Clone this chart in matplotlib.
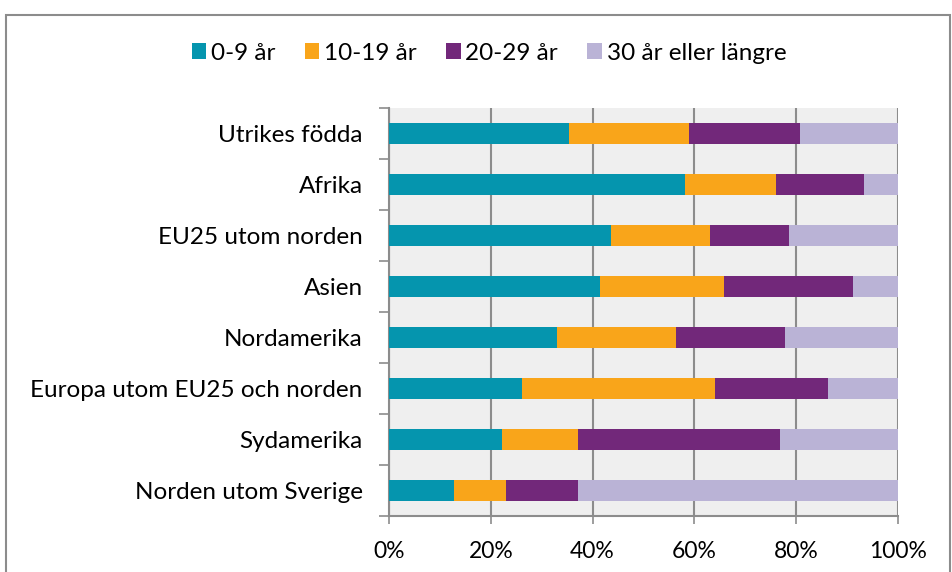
import numpy as np
import matplotlib.pyplot as plt
from matplotlib.patches import Rectangle

plt.rcParams['font.family'] = ['Lato', 'DejaVu Sans']

# categories from top to bottom
regions = ["Utrikes födda", "Afrika", "EU25 utom norden", "Asien", "Nordamerika",
           "Europa utom EU25 och norden", "Sydamerika", "Norden utom Sverige"]
# percent shares per duration group
share_0_9 = [35.4, 58.2, 43.6, 41.5, 33.0, 26.1, 22.2, 12.8]
share_10_19 = [23.5, 17.8, 19.5, 24.3, 23.4, 37.9, 14.9, 10.2]
share_20_29 = [21.8, 17.3, 15.5, 25.4, 21.4, 22.2, 39.7, 14.1]
share_30 = [19.3, 6.7, 21.4, 8.8, 22.2, 13.8, 23.2, 62.9]

series = [share_0_9, share_10_19, share_20_29, share_30]
labels = ["0-9 år", "10-19 år", "20-29 år", "30 år eller längre"]
colors = ["#0595ae", "#f9a51a", "#72287a", "#bab3d6"]

fig = plt.figure(figsize=(9.52, 5.72), dpi=100)
ax = fig.add_axes([389/952, 1-516/572, (898-389)/952, (516-108)/572])
ax.set_facecolor("#efefef")

y = np.arange(len(regions))[::-1]
left = np.zeros(len(regions))
for vals, lab, col in zip(series, labels, colors):
    vals = np.array(vals)
    ax.barh(y, vals, left=left, height=0.41, color=col, label=lab, zorder=3)
    left += vals

ax.set_xlim(0, 100)
ax.set_ylim(-0.5, len(regions) - 0.5)
ax.set_xticks(np.arange(0, 101, 20))
ax.set_xticklabels([f"{v}%" for v in range(0, 101, 20)], fontsize=16.5)
ax.set_yticks(y)
ax.set_yticklabels(regions, fontsize=17.5)
ax.tick_params(axis='y', length=0, pad=19)
ax.set_yticks(np.arange(-0.5, len(regions), 1), minor=True)
ax.tick_params(axis='y', which='minor', length=7, color="#8c8c8c", width=1.2)
ax.tick_params(axis='x', length=6, color="#8c8c8c", width=1.2, pad=12)
ax.grid(axis='x', color="#8c8c8c", linewidth=1.5, zorder=1)
for s in ["top", "right"]:
    ax.spines[s].set_visible(False)
for s in ["left", "bottom"]:
    ax.spines[s].set_color("#8c8c8c")
    ax.spines[s].set_linewidth(1.5)

fig.legend(loc="center", bbox_to_anchor=(489/952, 1-53/572), ncol=4, frameon=False,
           fontsize=17.5, handlelength=0.6, handleheight=0.6, handletextpad=0.2,
           columnspacing=1.2)

# outer chart border
fig.patches.append(Rectangle((6/952, -0.1), (950-6)/952, 1.1-15/572, transform=fig.transFigure,
                             fill=False, edgecolor="#8c8c8c", linewidth=1.5))

fig.savefig("out.png", dpi=100)
